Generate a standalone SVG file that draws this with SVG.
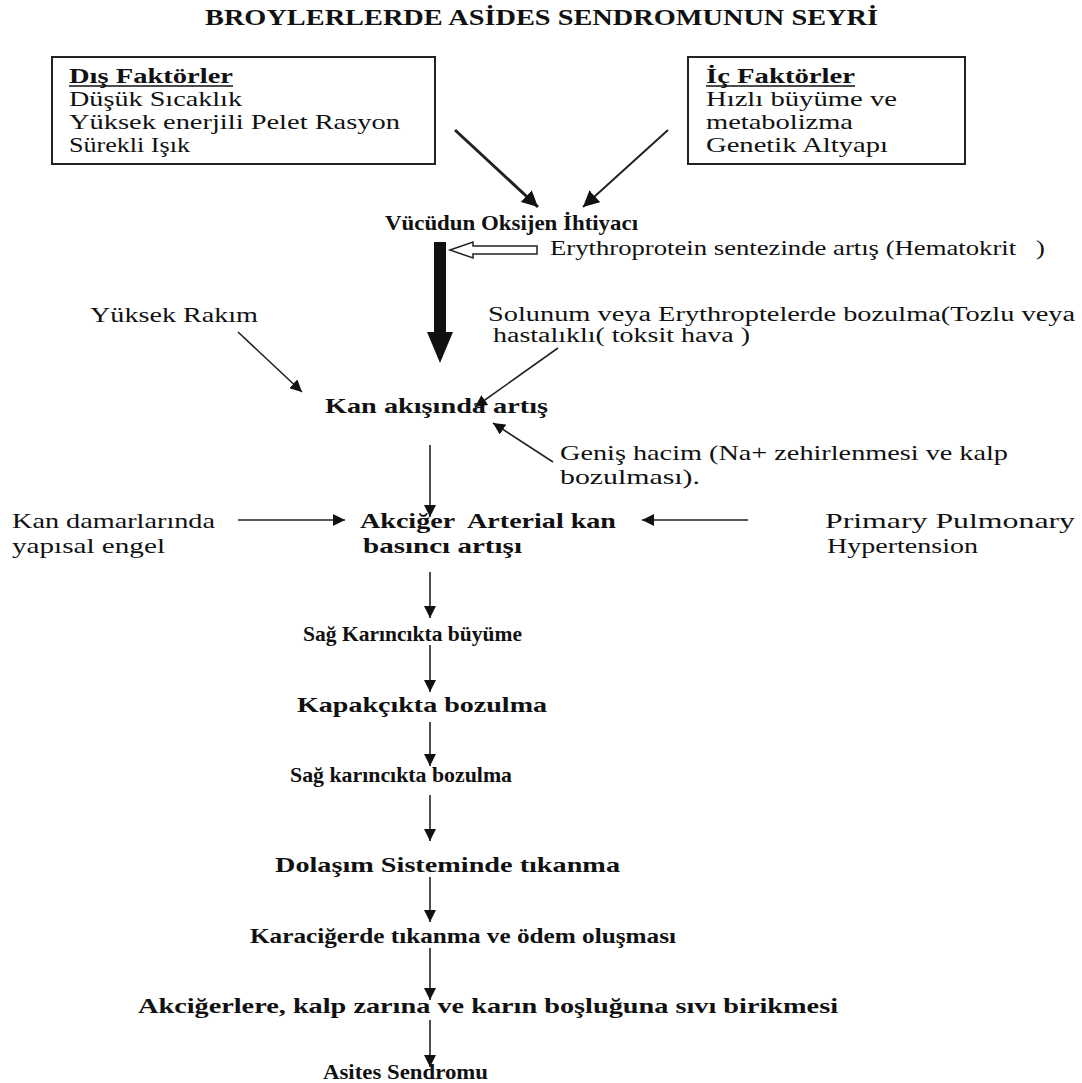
<svg xmlns="http://www.w3.org/2000/svg" width="1082" height="1083" viewBox="0 0 1082 1083">
<style>
text{font-family:"Liberation Serif","Times New Roman",serif;fill:#111}
.t{font-size:21.5px}
.s{font-size:20px}
.b{font-size:21px;font-weight:bold}
.h{font-size:23px;font-weight:bold}
.box{fill:#fff;stroke:#222;stroke-width:2}
.ln{stroke:#222;stroke-width:1.6;fill:none}
.ul{stroke:#111;stroke-width:1.4}
</style>
<defs>
<marker id="ah" markerUnits="userSpaceOnUse" markerWidth="14" markerHeight="12" refX="12" refY="6" orient="auto">
<path d="M0,0 L12,6 L0,12 z" fill="#111"/>
</marker>
<marker id="ahb" markerUnits="userSpaceOnUse" markerWidth="18" markerHeight="16" refX="16" refY="8" orient="auto">
<path d="M0,0 L16,8 L0,16 z" fill="#111"/>
</marker>
</defs>
<rect width="1082" height="1083" fill="#fff"/>

<text id="title" class="h" x="205" y="25" textLength="673" lengthAdjust="spacingAndGlyphs">BROYLERLERDE ASİDES SENDROMUNUN SEYRİ</text>

<g id="dis-faktorler">
<rect class="box" x="52" y="57" width="383" height="107"/>
<text class="b" x="69" y="83" textLength="164" lengthAdjust="spacingAndGlyphs">Dış Faktörler</text>
<line class="ul" x1="69" y1="86" x2="233" y2="86"/>
<text class="t" x="69" y="106" textLength="173" lengthAdjust="spacingAndGlyphs">Düşük Sıcaklık</text>
<text class="t" x="69" y="129" textLength="331" lengthAdjust="spacingAndGlyphs">Yüksek enerjili Pelet Rasyon</text>
<text class="t" x="69" y="152" textLength="121" lengthAdjust="spacingAndGlyphs">Sürekli Işık</text>
</g>

<g id="ic-faktorler">
<rect class="box" x="688" y="57" width="277" height="107"/>
<text class="b" x="706" y="83" textLength="149" lengthAdjust="spacingAndGlyphs">İç Faktörler</text>
<line class="ul" x1="706" y1="86" x2="855" y2="86"/>
<text class="t" x="706" y="106" textLength="191" lengthAdjust="spacingAndGlyphs">Hızlı büyüme ve</text>
<text class="t" x="706" y="129" textLength="147" lengthAdjust="spacingAndGlyphs">metabolizma</text>
<text class="t" x="706" y="152" textLength="182" lengthAdjust="spacingAndGlyphs">Genetik Altyapı</text>
</g>

<g id="oksijen">
<text class="b" x="385" y="230" textLength="253" lengthAdjust="spacingAndGlyphs">Vücüdun Oksijen İhtiyacı</text>
</g>

<g id="erythroprotein">
<text class="t" x="550" y="255" textLength="495" lengthAdjust="spacingAndGlyphs" xml:space="preserve">Erythroprotein sentezinde artış (Hematokrit   )</text>
</g>

<g id="yuksek-rakim">
<text class="t" x="90" y="322" textLength="168" lengthAdjust="spacingAndGlyphs">Yüksek Rakım</text>
</g>

<g id="solunum">
<text class="s" x="488" y="321" textLength="587" lengthAdjust="spacingAndGlyphs">Solunum veya Erythroptelerde bozulma(Tozlu veya</text>
<text class="s" x="493" y="342" textLength="257" lengthAdjust="spacingAndGlyphs">hastalıklı( toksit hava )</text>
</g>

<g id="kan-akisi">
<text class="b" x="325" y="413" textLength="223" lengthAdjust="spacingAndGlyphs">Kan akışında artış</text>
</g>

<g id="genis-hacim">
<text class="t" x="560" y="460" textLength="448" lengthAdjust="spacingAndGlyphs">Geniş hacim (Na+ zehirlenmesi ve kalp</text>
<text class="t" x="560" y="484" textLength="140" lengthAdjust="spacingAndGlyphs">bozulması).</text>
</g>

<g id="kan-damarlari">
<text class="t" x="12" y="528" textLength="203" lengthAdjust="spacingAndGlyphs">Kan damarlarında</text>
<text class="t" x="12" y="553" textLength="153" lengthAdjust="spacingAndGlyphs">yapısal engel</text>
</g>

<g id="akciger-basinc">
<text class="b" x="360" y="528" textLength="256" lengthAdjust="spacingAndGlyphs" xml:space="preserve">Akciğer  Arterial kan</text>
<text class="b" x="363" y="553" textLength="159" lengthAdjust="spacingAndGlyphs">basıncı artışı</text>
</g>

<g id="primary-pulmonary">
<text class="t" x="825" y="528" textLength="250" lengthAdjust="spacingAndGlyphs">Primary Pulmonary</text>
<text class="t" x="827" y="553" textLength="151" lengthAdjust="spacingAndGlyphs">Hypertension</text>
</g>

<g id="sag-karincik-buyume">
<text class="b" x="303" y="641" textLength="219" lengthAdjust="spacingAndGlyphs">Sağ Karıncıkta büyüme</text>
</g>
<g id="kapakcik">
<text class="b" x="297" y="712" textLength="250" lengthAdjust="spacingAndGlyphs">Kapakçıkta bozulma</text>
</g>
<g id="sag-karincik-bozulma">
<text class="b" x="290" y="782" textLength="222" lengthAdjust="spacingAndGlyphs">Sağ karıncıkta bozulma</text>
</g>
<g id="dolasim">
<text class="b" x="275" y="872" textLength="345" lengthAdjust="spacingAndGlyphs">Dolaşım Sisteminde tıkanma</text>
</g>
<g id="karaciger">
<text class="b" x="250" y="943" textLength="426" lengthAdjust="spacingAndGlyphs">Karaciğerde tıkanma ve ödem oluşması</text>
</g>
<g id="sivi-birikmesi">
<text class="b" x="138" y="1013" textLength="700" lengthAdjust="spacingAndGlyphs">Akciğerlere, kalp zarına ve karın boşluğuna sıvı birikmesi</text>
</g>
<g id="asites">
<text class="b" x="323" y="1079" textLength="165" lengthAdjust="spacingAndGlyphs">Asites Sendromu</text>
</g>

<g id="connectors">
<line class="ln" x1="455" y1="130" x2="538" y2="207" style="stroke-width:3" marker-end="url(#ahb)"/>
<line class="ln" x1="668" y1="130" x2="583" y2="207" style="stroke-width:2" marker-end="url(#ahb)"/>
<polygon points="450,250 473,242 473,246 537,246 537,254 473,254 473,258" fill="#fff" stroke="#222" stroke-width="1.5"/>
<polygon points="434,242 446,242 446,332 453,332 440,363 427,332 434,332" fill="#111"/>
<line class="ln" x1="238" y1="332" x2="302" y2="392" marker-end="url(#ah)"/>
<line class="ln" x1="558" y1="348" x2="475" y2="407" marker-end="url(#ah)"/>
<line class="ln" x1="553" y1="462" x2="493" y2="423" marker-end="url(#ah)"/>
<line class="ln" x1="430" y1="445" x2="430" y2="517" marker-end="url(#ah)"/>
<line class="ln" x1="238" y1="520" x2="345" y2="520" marker-end="url(#ah)"/>
<line class="ln" x1="748" y1="520" x2="642" y2="520" marker-end="url(#ah)"/>
<line class="ln" x1="430" y1="572" x2="430" y2="618" marker-end="url(#ah)"/>
<line class="ln" x1="430" y1="645" x2="430" y2="692" marker-end="url(#ah)"/>
<line class="ln" x1="430" y1="722" x2="430" y2="766" marker-end="url(#ah)"/>
<line class="ln" x1="430" y1="795" x2="430" y2="841" marker-end="url(#ah)"/>
<line class="ln" x1="430" y1="877" x2="430" y2="922" marker-end="url(#ah)"/>
<line class="ln" x1="430" y1="948" x2="430" y2="1000" marker-end="url(#ah)"/>
<line class="ln" x1="430" y1="1020" x2="430" y2="1067" marker-end="url(#ah)"/>
</g>
</svg>
